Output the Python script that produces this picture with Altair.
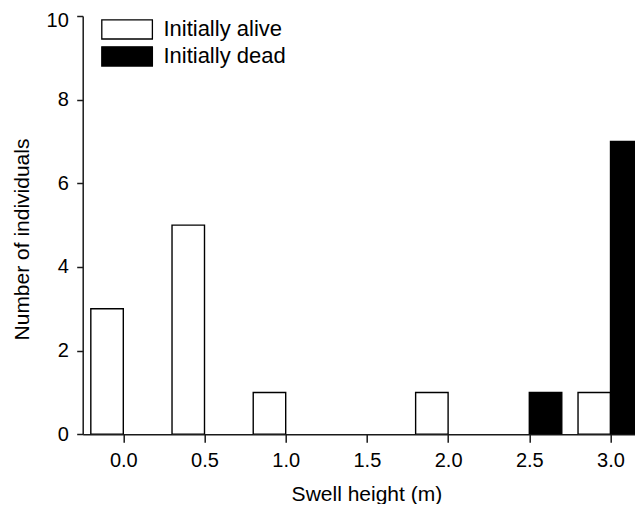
import altair as alt
import pandas as pd

# ---- data ----
status_labels = ["Initially alive", "Initially dead"]
bins_alive = [0.0, 0.5, 1.0, 2.0, 3.0]
counts_alive = [3, 5, 1, 1, 1]
bins_dead = [2.5, 3.0]
counts_dead = [1, 7]
x_ticks = [0.0, 0.5, 1.0, 1.5, 2.0, 2.5, 3.0]
y_ticks = [0, 2, 4, 6, 8, 10]

BAR_W = 0.2  # bar width in data units (alive bar sits left of bin, dead bar right)
rows = []
for b, c in zip(bins_alive, counts_alive):
    rows.append({"status": status_labels[0], "bin": b, "count": c, "x0": b - BAR_W, "x1": b})
for b, c in zip(bins_dead, counts_dead):
    rows.append({"status": status_labels[1], "bin": b, "count": c, "x0": b, "x1": b + BAR_W})
df = pd.DataFrame(rows)

FONT = "Liberation Sans"
AX = "#1a1a1a"

chart = alt.Chart(df).mark_rect(stroke="black", strokeWidth=1.4, clip=True).encode(
    x=alt.X(
        "x0:Q",
        scale=alt.Scale(domain=[-0.25, 3.1508], nice=False, zero=False),
        axis=alt.Axis(
            title="Swell height (m)", values=x_ticks, format=".1f",
            tickSize=8, labelPadding=8.6, labelFlush=False,
            titleX=283.7, titleY=66, titleBaseline="alphabetic", titleAlign="center",
        ),
    ),
    x2="x1:Q",
    y=alt.Y(
        "count:Q",
        scale=alt.Scale(domain=[0, 10], nice=False),
        axis=alt.Axis(
            title="Number of individuals", values=y_ticks, format="d",
            tickSize=6, labelPadding=8.4,
            labelOffset={"condition": {"test": "datum.value == 10", "value": 4.5}, "value": 0},
            titleX=-54.2, titleY=223, titleBaseline="alphabetic", titleAlign="center",
            titleAngle=270,
        ),
    ),
    y2=alt.datum(0),
    fill=alt.Fill(
        "status:N",
        scale=alt.Scale(domain=status_labels, range=["white", "black"]),
        legend=alt.Legend(
            title=None, orient="none", legendX=17.7, legendY=2.4, padding=0,
            symbolType="M-1,-1L4.27,-1L4.27,1L-1,1Z", symbolSize=368.6,
            symbolStrokeColor="black", symbolStrokeWidth=1.3, symbolOpacity=1,
            labelFont=FONT, labelFontSize=22, labelColor="black",
            labelOffset=41, rowPadding=1,
        ),
    ),
).properties(
    width=552.3,
    height=418.3,
    padding={"left": 74.7, "top": 8, "right": 0, "bottom": 69.7},
    autosize="none",
).configure_view(
    stroke="transparent"
).configure_axis(
    grid=False,
    domainColor=AX, domainWidth=1.5,
    tickColor=AX, tickWidth=1.5,
    labelFont=FONT, labelFontSize=20, labelColor="black",
    titleFont=FONT, titleFontSize=21, titleFontWeight="normal", titleColor="black",
)

chart.save("out.html", embed_options={"renderer": "svg", "actions": False})
